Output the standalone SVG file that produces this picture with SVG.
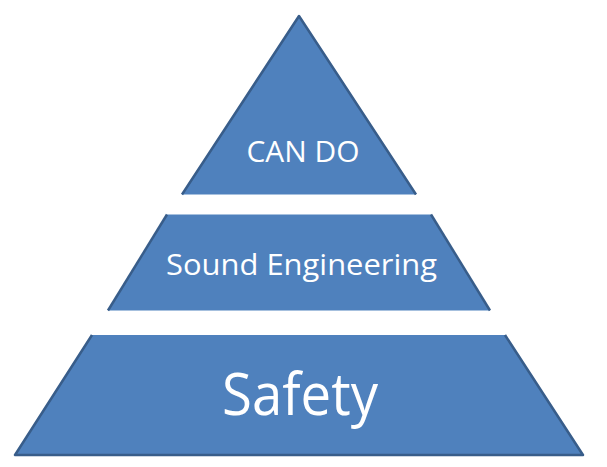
<svg xmlns="http://www.w3.org/2000/svg" width="607" height="467" viewBox="0 0 607 467">
<style>
.fill{fill:#4f81bd;stroke:none}
.edge{fill:none;stroke:#385d8a;stroke-width:2.5;stroke-linejoin:round;stroke-linecap:butt}
.lbl{fill:#ffffff;font-family:"Open Sans","DejaVu Sans",sans-serif;text-anchor:middle}
</style>
<rect width="607" height="467" fill="#ffffff"/>
<g id="top-can-do">
<polygon class="fill" points="299,16 416,194.5 182,194.5"/>
<polyline class="edge" points="182,194.5 299,16 416,194.5"/>
<text class="lbl" x="303" y="162" font-size="30" textLength="113" lengthAdjust="spacingAndGlyphs">CAN DO</text>
</g>
<g id="middle-sound-engineering">
<polygon class="fill" points="167,214.5 431,214.5 490,310.5 108,310.5"/>
<polyline class="edge" points="108,310.5 167,214.5"/>
<polyline class="edge" points="431,214.5 490,310.5"/>
<text class="lbl" x="301.5" y="275" font-size="30" textLength="271" lengthAdjust="spacingAndGlyphs">Sound Engineering</text>
</g>
<g id="bottom-safety">
<polygon class="fill" points="92,335 505,335 583,455 15,455"/>
<polyline class="edge" points="92,335 15,455 583,455 505,335"/>
<text class="lbl" x="300" y="415" font-size="58" textLength="156" lengthAdjust="spacingAndGlyphs">Safety</text>
</g>
<g id="connectors"/>
</svg>
